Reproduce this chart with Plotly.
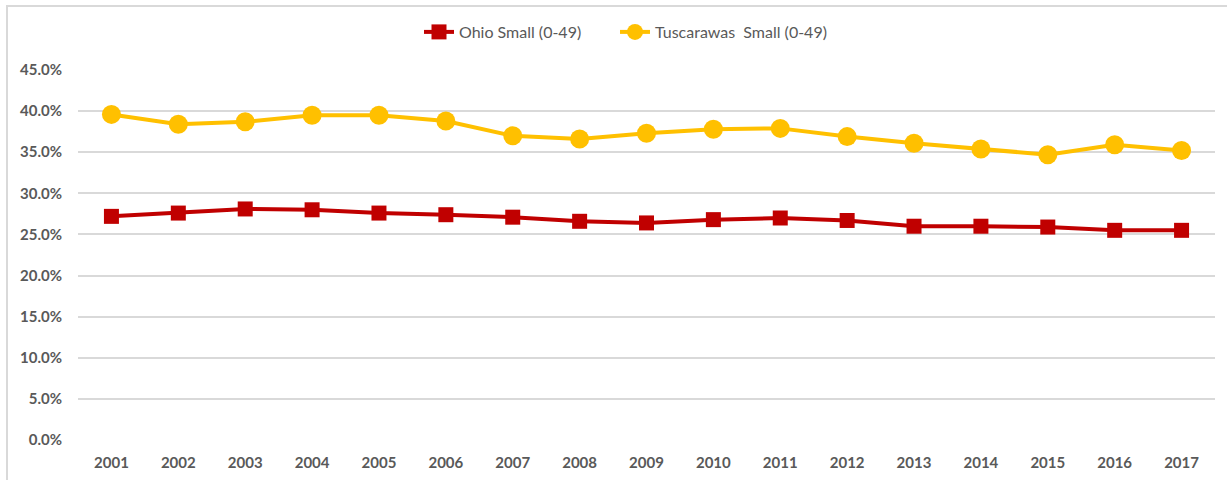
import plotly.graph_objects as go

years = [str(y) for y in range(2001, 2018)]
ohio_small = [27.2, 27.6, 28.1, 28.0, 27.6, 27.4, 27.1, 26.6, 26.4,
              26.8, 27.0, 26.7, 26.0, 26.0, 25.9, 25.5, 25.5]
tusc_small = [39.6, 38.4, 38.7, 39.5, 39.5, 38.8, 37.0, 36.6, 37.3,
              37.8, 37.9, 36.9, 36.1, 35.4, 34.7, 35.9, 35.2]
y_ticks = [0, 5, 10, 15, 20, 25, 30, 35, 40, 45]

ohio_pct = [v / 100 for v in ohio_small]
tusc_pct = [v / 100 for v in tusc_small]

fig = go.Figure()
fig.add_trace(go.Scatter(
    x=years, y=ohio_pct, name="Ohio Small (0-49)", mode="lines+markers",
    line=dict(color="#C00000", width=4),
    marker=dict(symbol="square", size=15, color="#C00000"),
    legend="legend",
))
fig.add_trace(go.Scatter(
    x=years, y=tusc_pct, name="Tuscarawas  Small (0-49)", mode="lines+markers",
    line=dict(color="#FFC000", width=4),
    marker=dict(symbol="circle", size=19, color="#FFC000"),
    legend="legend2",
))

# chart area border (cropped on the right and bottom in the reference)
fig.add_shape(type="rect", xref="paper", yref="paper",
              x0=-71 / 1137, x1=1240 / 1137, y0=-60 / 370, y1=434 / 370,
              line=dict(color="#D9D9D9", width=2), layer="below")

legend_style = dict(orientation="h", xanchor="left", y=(440 - 32) / 370,
                    yanchor="middle", font=dict(size=16, color="#595959"),
                    bgcolor="rgba(0,0,0,0)")

fig.update_layout(
    width=1227, height=480,
    margin=dict(l=78, r=12, t=70, b=40, autoexpand=False),
    paper_bgcolor="white", plot_bgcolor="white",
    font=dict(family="Lato", color="#595959", size=16),
    legend=dict(x=(419 - 78) / 1137, **legend_style),
    legend2=dict(x=(615 - 78) / 1137, **legend_style),
    showlegend=True,
)
fig.update_xaxes(type="category", range=[-0.5, 16.5], showgrid=False,
                 showline=False, ticks="", ticklabelstandoff=12, automargin=False,
                 tickfont=dict(size=15, color="#595959", weight="bold"))
fig.update_yaxes(range=[0, 0.45], tickvals=[t / 100 for t in y_ticks],
                 tickformat=".1%", gridcolor="#D9D9D9", gridwidth=2,
                 zeroline=False, showline=False, ticklabelstandoff=15, automargin=False,
                 tickfont=dict(size=15, color="#595959", weight="bold"))

fig.write_html("out.html", config={"displayModeBar": False},
               post_script="document.body.style.margin='0';")
